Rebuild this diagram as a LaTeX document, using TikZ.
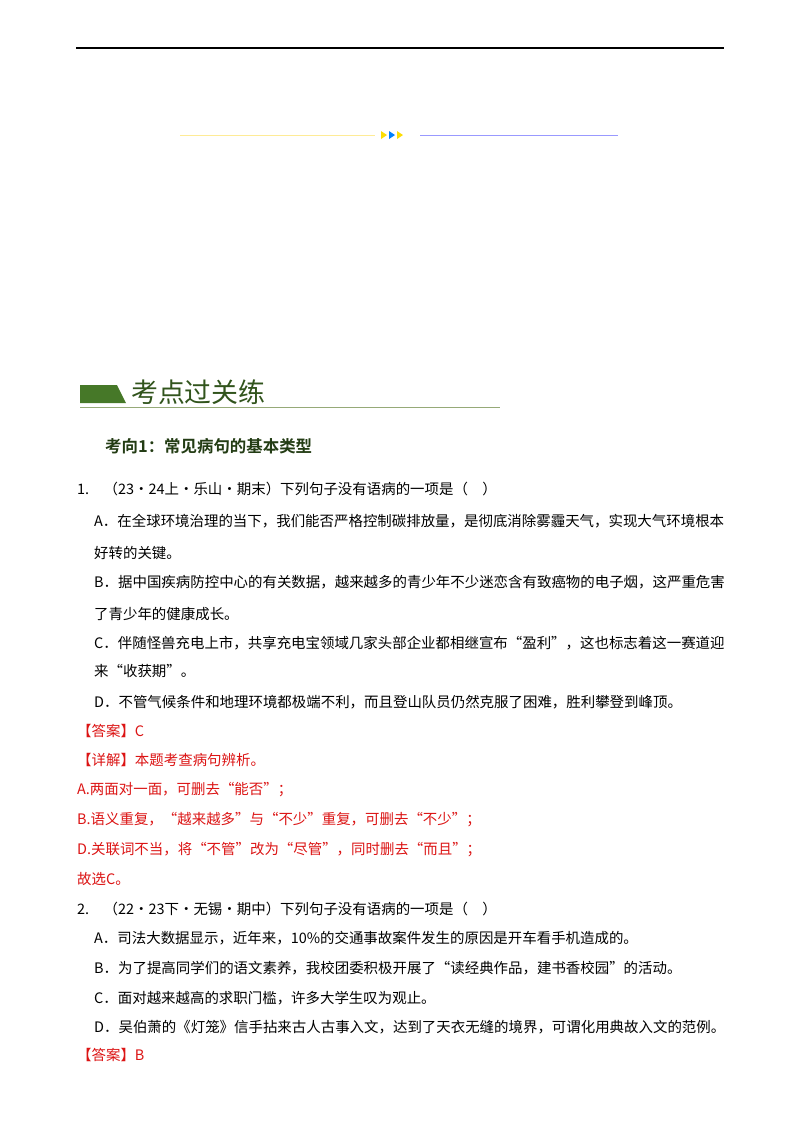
\documentclass[tikz,border=0pt]{standalone}
\usepackage{fontspec}
\setmainfont{Noto Sans CJK SC}[BoldFont={Noto Sans CJK SC Bold}]
\usetikzlibrary{positioning}
\definecolor{bannergreen}{RGB}{70,120,40}
\definecolor{rulegreen}{RGB}{150,170,120}
\definecolor{ansred}{RGB}{220,20,20}
\tikzset{
  txt/.style={anchor=west,inner sep=0pt,font=\fontsize{14.5}{16}\selectfont},
  ans/.style={txt,text=ansred},
}
\begin{document}
\begin{tikzpicture}[x=1bp,y=-1bp]
\useasboundingbox (0,0) rectangle (800,1132);
\fill[white] (0,0) rectangle (800,1132);
% header
\draw[line width=1.2pt] (76,48) -- (724,48);
\draw[yellow!70!orange!40,line width=0.8pt] (180,135) -- (375,135);
\fill[yellow!80!orange] (381,131) -- (387,135) -- (381,139) -- cycle;
\fill[blue!50!cyan] (389,131) -- (395,135) -- (389,139) -- cycle;
\fill[yellow!80!orange] (397,131) -- (403,135) -- (397,139) -- cycle;
\draw[blue!40,line width=0.8pt] (420,135) -- (618,135);
% banner
\fill[bannergreen] (80,385) -- (117,385) -- (126,403) -- (80,403) -- cycle;
\draw[rulegreen,line width=0.8pt] (80,407) -- (500,407);
\node[txt,font=\fontsize{27}{29}\selectfont,text=bannergreen!70!black] (banner) at (131,392) {考点过关练};
\node[txt,font=\bfseries\fontsize{16.5}{18}\selectfont,text=bannergreen!50!black] (topic) at (105,446) {考向1：常见病句的基本类型};
% question 1
\node[txt] (q1) at (77,489) {1.\quad（23·24上·乐山·期末）下列句子没有语病的一项是（\quad）};
\node[txt] (q1a) at (94,521) {A．在全球环境治理的当下，我们能否严格控制碳排放量，是彻底消除雾霾天气，实现大气环境根本};
\node[txt] (q1a2) at (94,553) {好转的关键。};
\node[txt] (q1b) at (94,582) {B．据中国疾病防控中心的有关数据，越来越多的青少年不少迷恋含有致癌物的电子烟，这严重危害};
\node[txt] (q1b2) at (94,614) {了青少年的健康成长。};
\node[txt] (q1c) at (94,643) {C．伴随怪兽充电上市，共享充电宝领域几家头部企业都相继宣布“盈利”，这也标志着这一赛道迎};
\node[txt] (q1c2) at (94,671) {来“收获期”。};
\node[txt] (q1d) at (94,702) {D．不管气候条件和地理环境都极端不利，而且登山队员仍然克服了困难，胜利攀登到峰顶。};
\node[ans] (a1) at (77,731) {【答案】C};
\node[ans] (a1x) at (77,760) {【详解】本题考查病句辨析。};
\node[ans] (a1l1) at (77,790) {A.两面对一面，可删去“能否”；};
\node[ans] (a1l2) at (77,820) {B.语义重复，“越来越多”与“不少”重复，可删去“不少”；};
\node[ans] (a1l3) at (77,850) {D.关联词不当，将“不管”改为“尽管”，同时删去“而且”；};
\node[ans] (a1l4) at (77,879) {故选C。};
% question 2
\node[txt] (q2) at (77,909) {2.\quad（22·23下·无锡·期中）下列句子没有语病的一项是（\quad）};
\node[txt] (q2a) at (94,938) {A．司法大数据显示，近年来，10\%的交通事故案件发生的原因是开车看手机造成的。};
\node[txt] (q2b) at (94,968) {B．为了提高同学们的语文素养，我校团委积极开展了“读经典作品，建书香校园”的活动。};
\node[txt] (q2c) at (94,998) {C．面对越来越高的求职门槛，许多大学生叹为观止。};
\node[txt] (q2d) at (94,1027) {D．吴伯萧的《灯笼》信手拈来古人古事入文，达到了天衣无缝的境界，可谓化用典故入文的范例。};
\node[ans] (a2) at (77,1055) {【答案】B};
\end{tikzpicture}
\end{document}
